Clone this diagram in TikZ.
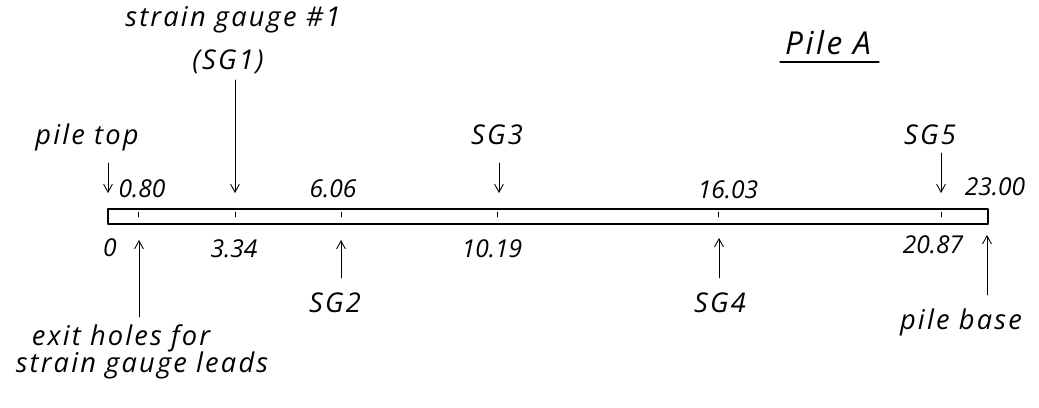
\documentclass[tikz,border=0pt]{standalone}
\usepackage{fontspec}
\setmainfont{Open Sans}
\newfontfamily\handfont[LetterSpace=8]{Open Sans}
\usetikzlibrary{arrows.meta}
\begin{document}
\begin{tikzpicture}[x=0.02cm,y=-0.02cm,>={Straight Barb[length=4.5pt,width=5pt]}, font=\fontsize{14}{16}\selectfont\itshape, line join=round, line cap=round]
	\tikzset{lbl/.style={inner sep=0pt},
		wordlbl/.style={inner sep=0pt,font=\fontsize{15.5}{18}\selectfont\handfont\itshape},
		gaugearrow/.style={->,line width=0.5pt}}
	\useasboundingbox (0,0) rectangle (1039,407);
	% the pile
	\draw[line width=0.8pt] (108,209) rectangle (988,224);
	\foreach \x in {138,235,341,497,718,941}
		\draw[line width=0.5pt] (\x,212)--(\x,217);
	% title
	\node[wordlbl,font=\fontsize{18}{20}\selectfont\handfont\itshape] (title) at (828,43) {Pile A};
	\draw[line width=0.6pt] (780,62)--(879,62);
	% labels above the pile
	\node[wordlbl] (sgone) at (233,20) {strain gauge \#1};
	\node[wordlbl] (sgonetag) at (228,62) {(SG1)};
	\node[wordlbl] (toplbl) at (87,137) {pile top};
	\node[wordlbl] (sgthree) at (497,135) {SG3};
	\node[wordlbl] (sgfive) at (930,135) {SG5};
	\node[lbl] (dtop) at (142,189) {0.80};
	\node[lbl] (dtwo) at (333,189) {6.06};
	\node[lbl] (dfour) at (728,190) {16.03};
	\node[lbl] (dbase) at (995,187) {23.00};
	% labels below the pile
	\node[lbl] (dzero) at (110,248) {0};
	\node[lbl] (done) at (234,249) {3.34};
	\node[lbl] (dthree) at (492,249) {10.19};
	\node[lbl] (dfive) at (933,245) {20.87};
	\node[wordlbl] (sgtwo) at (335,303) {SG2};
	\node[wordlbl] (sgfour) at (720,303) {SG4};
	\node[wordlbl] (baselbl) at (961,322) {pile base};
	\node[wordlbl] (exitlbl) at (121,338) {exit holes for};
	\node[wordlbl] (leadlbl) at (142,365) {strain gauge leads};
	% arrow ends
	\coordinate (topa) at (108,163); \coordinate (topb) at (108,193);
	\coordinate (onea) at (235,80); \coordinate (oneb) at (235,193);
	\coordinate (threea) at (499,163); \coordinate (threeb) at (499,193);
	\coordinate (fivea) at (941,153); \coordinate (fiveb) at (941,193);
	\coordinate (exita) at (139,317); \coordinate (exitb) at (139,240);
	\coordinate (twoa) at (341,278); \coordinate (twob) at (341,240);
	\coordinate (foura) at (719,278); \coordinate (fourb) at (719,238);
	\coordinate (basea) at (987,295); \coordinate (baseb) at (987,235);
	\draw[gaugearrow] (topa)--(topb);
	\draw[gaugearrow] (onea)--(oneb);
	\draw[gaugearrow] (threea)--(threeb);
	\draw[gaugearrow] (fivea)--(fiveb);
	\draw[gaugearrow] (exita)--(exitb);
	\draw[gaugearrow] (twoa)--(twob);
	\draw[gaugearrow] (foura)--(fourb);
	\draw[gaugearrow] (basea)--(baseb);
\end{tikzpicture}
\end{document}
